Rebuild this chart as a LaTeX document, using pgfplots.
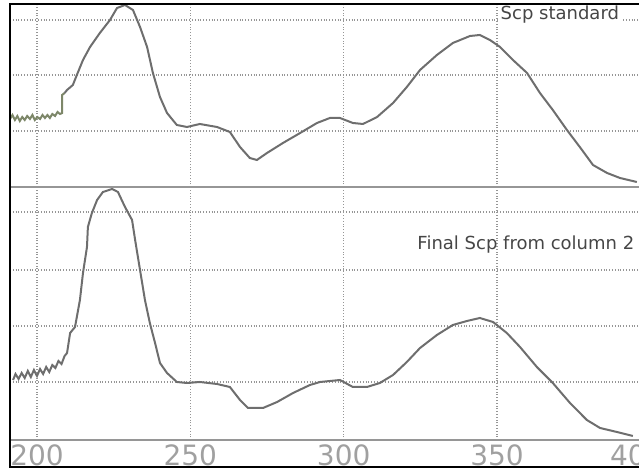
\documentclass[border=0pt]{standalone}
\usepackage{fontspec}
\setmainfont{DejaVu Sans}
\usepackage{pgfplots}
\pgfplotsset{compat=1.18}
\definecolor{gridc}{RGB}{150,150,150}
\definecolor{curvec}{RGB}{110,110,110}
\definecolor{noisec}{RGB}{125,135,105}
\definecolor{sepc}{RGB}{150,150,150}
\definecolor{labc}{RGB}{160,160,160}
\pgfplotsset{panel/.style={scale only axis, width=314.5pt,
  xmin=191.2, xmax=396.3, xtick={200,250,300,350},
  grid=major, major grid style={gridc, densely dotted, line width=0.7pt},
  axis line style={draw=none}, tick style={draw=none},
  yticklabels={}, ymin=0, clip=false,
  /pgf/number format/assume math mode=true}}
\begin{document}
\begin{tikzpicture}
\useasboundingbox (0,0) rectangle (319.5pt,235pt);
% top panel
\begin{axis}[panel, at={(5pt,141.5pt)}, anchor=south west, height=91pt,
  ymax=182, ytick={56,112,167}, xticklabels={}]
\addplot[noisec, line width=1pt] coordinates {
(191.2,68) (192.0,72) (192.8,67) (193.6,71) (194.4,66) (195.2,70) (196.0,67) (196.8,71)
(197.7,68) (198.5,72) (199.3,67) (200.1,70) (201.0,68) (201.8,72) (202.6,69) (203.4,72)
(204.2,69) (205.0,73) (205.9,71) (206.7,75) (207.5,73) (208.2,74) (208.2,92) (209.0,94)
};
\addplot[curvec, line width=1pt] coordinates {
(209.0,94) (209.8,97) (211.7,102) (213.0,112) (215.0,127) (217.3,140) (220.5,154)
(223.8,167) (226.1,179) (228.7,182) (231.3,177) (233.6,160) (235.9,140) (237.8,114)
(240.1,90) (242.4,74) (245.6,62) (248.9,60) (253.1,63) (258.7,60) (262.9,55)
(266.2,40) (269.4,29) (271.7,27) (275.0,34) (280.2,44) (285.8,54) (291.3,64)
(295.5,69) (298.8,69) (303.0,64) (306.3,63) (310.9,70) (316.1,84) (320.6,100)
(324.9,117) (330.4,132) (335.6,144) (341.2,151) (344.4,152) (347.7,147) (351.0,140)
(355.2,127) (359.8,114) (364.0,94) (368.2,77) (372.8,57) (377.0,40) (381.3,22)
(385.9,14) (390.1,9) (395.6,5)
};
\node[fill=white, inner sep=1pt, text={rgb,255:red,70;green,70;blue,70}, font=\fontsize{9}{9}\selectfont] at (axis cs:370.5,172) {Scp standard};
\end{axis}
% bottom panel
\begin{axis}[panel, at={(5pt,15pt)}, anchor=south west, height=126.5pt,
  ymax=253, ytick={58,114,170,228},
  xticklabels={200,250,300,350},
  xticklabel style={anchor=center, yshift=-7.5pt, text=labc, font=\fontsize{14}{14}\selectfont}]
\addplot[curvec, line width=1pt] coordinates {
(192.2,60) (193.0,66) (194.0,61) (195.0,67) (196.0,62) (197.0,69) (198.0,63) (199.0,70)
(200.0,64) (201.0,71) (202.0,66) (203.0,73) (204.0,68) (205.0,75) (206.0,72) (207.0,79)
(208.0,76) (209.0,84) (209.8,87) (210.8,107) (212.4,113) (214.0,140) (215.0,167)
(216.3,193) (216.6,213) (217.9,227) (219.6,240) (221.5,248) (224.5,251) (226.4,248)
(228.7,233) (231.0,220) (232.0,200) (233.6,170) (235.2,140) (236.8,117) (238.5,97)
(240.1,77) (242.4,67) (245.6,58) (248.9,57) (253.1,58) (258.7,56) (262.9,53)
(266.2,40) (268.8,32) (273.7,32) (278.3,38) (283.5,47) (289.0,55) (292.3,58)
(298.8,60) (303.0,53) (307.6,53) (311.8,57) (316.1,65) (320.6,78) (324.9,92)
(330.4,105) (335.6,115) (340.2,119) (344.4,122) (348.7,118) (353.2,107) (357.5,93)
(363.0,73) (368.2,57) (373.8,37) (379.3,20) (383.6,12) (389.1,8) (394.3,4)
};
\node[text={rgb,255:red,70;green,70;blue,70}, font=\fontsize{9}{9}\selectfont] at (axis cs:359.4,195) {Final Scp from column 2};
\node[text=labc, font=\fontsize{14}{14}\selectfont, yshift=-7.5pt] at (axis cs:395.6,0) {400};
\end{axis}
\draw[sepc, line width=1pt] (5pt,141.5pt) -- (319.5pt,141.5pt);
\draw[sepc, line width=1pt] (5pt,15pt) -- (319.5pt,15pt);
\draw[black, line width=1.3pt] (319.5pt,233pt) -- (5pt,233pt) -- (5pt,1.5pt) -- (319.5pt,1.5pt);
\end{tikzpicture}
\end{document}
